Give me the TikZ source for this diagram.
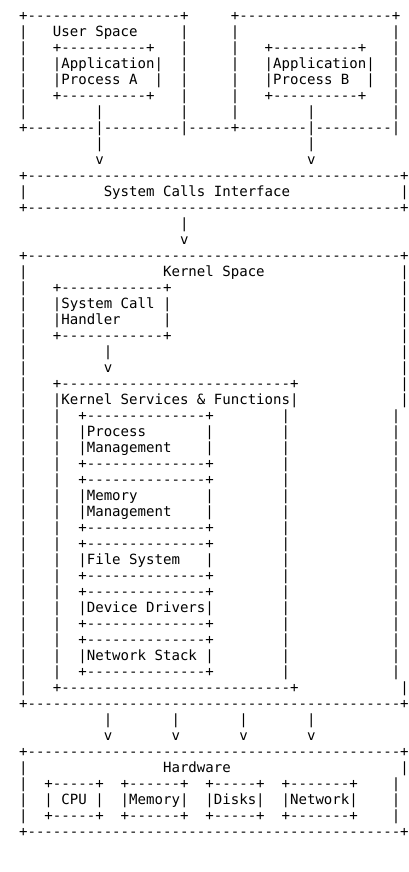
\documentclass[tikz,border=0pt]{standalone}
\usepackage{fontspec}
\setmonofont{DejaVu Sans Mono}
\ExplSyntaxOn
\cs_new:Npn \ascrep #1#2 { \prg_replicate:nn {#1} {#2} }
\ExplSyntaxOff
\newcommand\ascS[1]{\ascrep{#1}{\ }}
\newcommand\ascD[1]{\ascrep{#1}{-}}
\tikzset{asc/.style={anchor=base west, inner sep=0pt, outer sep=0pt,
  font=\ttfamily\fontsize{14.07pt}{16pt}\selectfont, text=black}}
\newcommand\ascline[2]{\node[asc] (l#1) at (19.07,{-20.5-16*#1}) {#2};}
\begin{document}
\begin{tikzpicture}[x=1pt,y=1pt]
\fill[white] (0,0) rectangle (408,-872);
\useasboundingbox (0,0) rectangle (408,-872);
\ascline{0}{+\ascD{18}+\ascS{5}+\ascD{18}+}
\ascline{1}{|\ascS{3}User\ Space\ascS{5}|\ascS{5}|\ascS{18}|}
\ascline{2}{|\ascS{3}+\ascD{10}+\ascS{3}|\ascS{5}|\ascS{3}+\ascD{10}+\ascS{3}|}
\ascline{3}{|\ascS{3}|Application|\ascS{2}|\ascS{5}|\ascS{3}|Application|\ascS{2}|}
\ascline{4}{|\ascS{3}|Process\ A\ascS{2}|\ascS{2}|\ascS{5}|\ascS{3}|Process\ B\ascS{2}|\ascS{2}|}
\ascline{5}{|\ascS{3}+\ascD{10}+\ascS{3}|\ascS{5}|\ascS{3}+\ascD{10}+\ascS{3}|}
\ascline{6}{|\ascS{8}|\ascS{9}|\ascS{5}|\ascS{8}|\ascS{9}|}
\ascline{7}{+\ascD{8}|\ascD{9}|\ascD{5}+\ascD{8}|\ascD{9}|}
\ascline{8}{\ascS{9}|\ascS{24}|}
\ascline{9}{\ascS{9}v\ascS{24}v}
\ascline{10}{+\ascD{44}+}
\ascline{11}{|\ascS{9}System\ Calls\ Interface\ascS{13}|}
\ascline{12}{+\ascD{44}+}
\ascline{13}{\ascS{19}|}
\ascline{14}{\ascS{19}v}
\ascline{15}{+\ascD{44}+}
\ascline{16}{|\ascS{16}Kernel\ Space\ascS{16}|}
\ascline{17}{|\ascS{3}+\ascD{12}+\ascS{27}|}
\ascline{18}{|\ascS{3}|System\ Call\ |\ascS{27}|}
\ascline{19}{|\ascS{3}|Handler\ascS{5}|\ascS{27}|}
\ascline{20}{|\ascS{3}+\ascD{12}+\ascS{27}|}
\ascline{21}{|\ascS{9}|\ascS{34}|}
\ascline{22}{|\ascS{9}v\ascS{34}|}
\ascline{23}{|\ascS{3}+\ascD{27}+\ascS{12}|}
\ascline{24}{|\ascS{3}|Kernel\ Services\ \&\ Functions|\ascS{12}|}
\ascline{25}{|\ascS{3}|\ascS{2}+\ascD{14}+\ascS{8}|\ascS{12}|}
\ascline{26}{|\ascS{3}|\ascS{2}|Process\ascS{7}|\ascS{8}|\ascS{12}|}
\ascline{27}{|\ascS{3}|\ascS{2}|Management\ascS{4}|\ascS{8}|\ascS{12}|}
\ascline{28}{|\ascS{3}|\ascS{2}+\ascD{14}+\ascS{8}|\ascS{12}|}
\ascline{29}{|\ascS{3}|\ascS{2}+\ascD{14}+\ascS{8}|\ascS{12}|}
\ascline{30}{|\ascS{3}|\ascS{2}|Memory\ascS{8}|\ascS{8}|\ascS{12}|}
\ascline{31}{|\ascS{3}|\ascS{2}|Management\ascS{4}|\ascS{8}|\ascS{12}|}
\ascline{32}{|\ascS{3}|\ascS{2}+\ascD{14}+\ascS{8}|\ascS{12}|}
\ascline{33}{|\ascS{3}|\ascS{2}+\ascD{14}+\ascS{8}|\ascS{12}|}
\ascline{34}{|\ascS{3}|\ascS{2}|File\ System\ascS{3}|\ascS{8}|\ascS{12}|}
\ascline{35}{|\ascS{3}|\ascS{2}+\ascD{14}+\ascS{8}|\ascS{12}|}
\ascline{36}{|\ascS{3}|\ascS{2}+\ascD{14}+\ascS{8}|\ascS{12}|}
\ascline{37}{|\ascS{3}|\ascS{2}|Device\ Drivers|\ascS{8}|\ascS{12}|}
\ascline{38}{|\ascS{3}|\ascS{2}+\ascD{14}+\ascS{8}|\ascS{12}|}
\ascline{39}{|\ascS{3}|\ascS{2}+\ascD{14}+\ascS{8}|\ascS{12}|}
\ascline{40}{|\ascS{3}|\ascS{2}|Network\ Stack\ |\ascS{8}|\ascS{12}|}
\ascline{41}{|\ascS{3}|\ascS{2}+\ascD{14}+\ascS{8}|\ascS{12}|}
\ascline{42}{|\ascS{3}+\ascD{27}+\ascS{12}|}
\ascline{43}{+\ascD{44}+}
\ascline{44}{\ascS{10}|\ascS{7}|\ascS{7}|\ascS{7}|}
\ascline{45}{\ascS{10}v\ascS{7}v\ascS{7}v\ascS{7}v}
\ascline{46}{+\ascD{44}+}
\ascline{47}{|\ascS{16}Hardware\ascS{20}|}
\ascline{48}{|\ascS{2}+\ascD{5}+\ascS{2}+\ascD{6}+\ascS{2}+\ascD{5}+\ascS{2}+\ascD{7}+\ascS{4}|}
\ascline{49}{|\ascS{2}|\ CPU\ |\ascS{2}|Memory|\ascS{2}|Disks|\ascS{2}|Network|\ascS{4}|}
\ascline{50}{|\ascS{2}+\ascD{5}+\ascS{2}+\ascD{6}+\ascS{2}+\ascD{5}+\ascS{2}+\ascD{7}+\ascS{4}|}
\ascline{51}{+\ascD{44}+}
\end{tikzpicture}
\end{document}
